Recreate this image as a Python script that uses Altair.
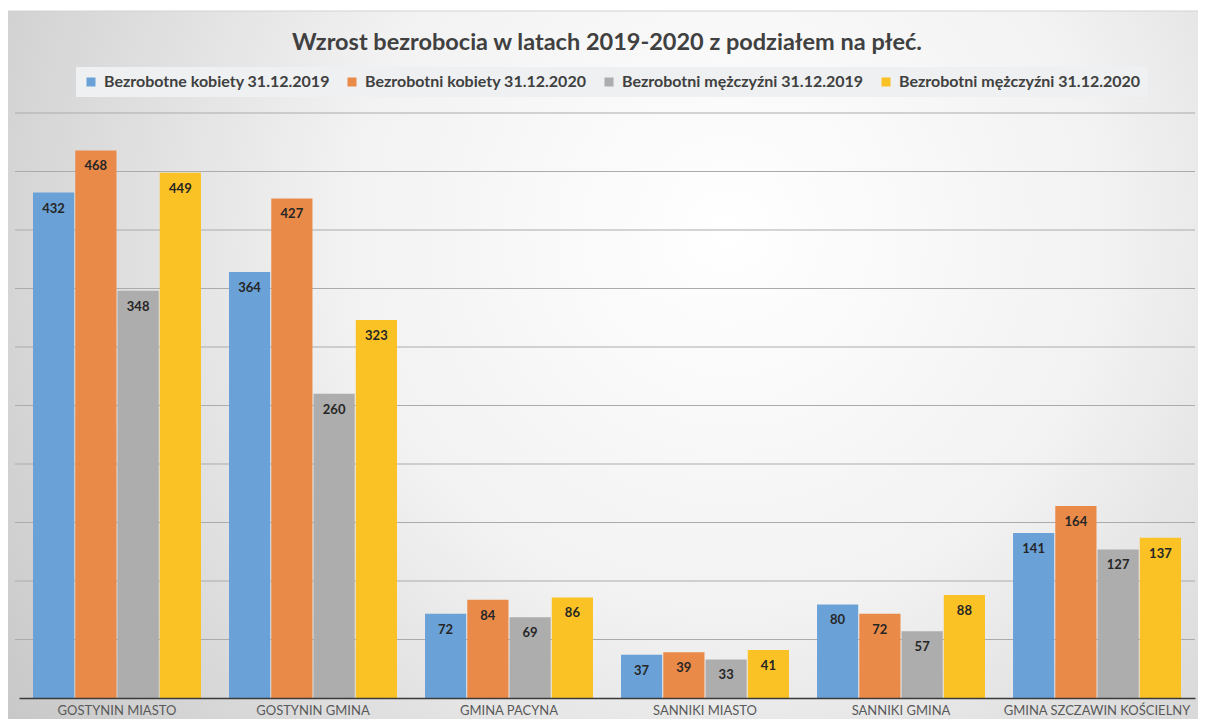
import altair as alt
import pandas as pd

categories = [
    "GOSTYNIN MIASTO",
    "GOSTYNIN GMINA",
    "GMINA PACYNA",
    "SANNIKI MIASTO",
    "SANNIKI GMINA",
    "GMINA SZCZAWIN KOŚCIELNY",
]
series = [
    "Bezrobotne kobiety 31.12.2019",
    "Bezrobotni kobiety 31.12.2020",
    "Bezrobotni mężczyźni 31.12.2019",
    "Bezrobotni mężczyźni 31.12.2020",
]
kobiety_2019 = [432, 364, 72, 37, 80, 141]
kobiety_2020 = [468, 427, 84, 39, 72, 164]
mezczyzni_2019 = [348, 260, 69, 33, 57, 127]
mezczyzni_2020 = [449, 323, 86, 41, 88, 137]
colors = ["#6aa2d8", "#ea8a48", "#adadad", "#fac224"]
grid_values = list(range(50, 501, 50))

rows = []
for s, vals in zip(series, [kobiety_2019, kobiety_2020, mezczyzni_2019, mezczyzni_2020]):
    for c, v in zip(categories, vals):
        rows.append({"gmina": c, "seria": s, "wartosc": v})
df = pd.DataFrame(rows)

W, H = 1176, 585

bg = alt.Chart(pd.DataFrame({"a": [0]})).mark_rect(
    fill={
        "gradient": "radial",
        "x1": 0.6, "y1": 0.38, "r1": 0.0,
        "x2": 0.6, "y2": 0.38, "r2": 0.76,
        "stops": [
            {"offset": 0.0, "color": "#ffffff"},
            {"offset": 0.42, "color": "#f2f2f2"},
            {"offset": 1.0, "color": "#c4c4c4"},
        ],
    },
    stroke="#d2d2d2",
    strokeWidth=1,
).encode(
    x=alt.value(-12), x2=alt.value(W + 14), y=alt.value(-102), y2=alt.value(H + 40)
)

grid = alt.Chart(pd.DataFrame({"v": grid_values})).mark_rule(
    color="#ababab", strokeWidth=1
).encode(
    y=alt.Y("v:Q", scale=alt.Scale(domain=[0, 500], nice=False), axis=None),
    x=alt.value(-4),
    x2=alt.value(W),
)

base = alt.Chart(df).encode(
    x=alt.X(
        "gmina:N",
        sort=categories,
        scale=alt.Scale(paddingInner=0.143, paddingOuter=0.0714),
        axis=alt.Axis(
            title=None,
            labelAngle=0,
            labelFont="Lato",
            labelFontSize=13,
            labelColor="#595959",
            ticks=False,
            domainColor="#3a3a3a",
            domainWidth=1.5,
            labelPadding=6,
            grid=False,
            labelLimit=0,
            zindex=1,
        ),
    ),
    xOffset=alt.XOffset("seria:N", sort=series, scale=alt.Scale(paddingInner=0.025)),
    y=alt.Y("wartosc:Q", scale=alt.Scale(domain=[0, 500], nice=False), axis=None),
)

bars = base.mark_bar().encode(
    color=alt.Color(
        "seria:N",
        sort=series,
        scale=alt.Scale(domain=series, range=colors),
        legend=alt.Legend(
            orient="none",
            legendX=57,
            legendY=-46,
            direction="horizontal",
            title=None,
            symbolType="square",
            symbolSize=81,
            symbolStrokeWidth=0,
            labelFont="Lato",
            labelFontWeight="bold",
            labelFontSize=16,
            labelColor="#404040",
            labelOffset=5,
            columnPadding=14,
            fillColor="#eef0f1",
            padding=7,
            labelLimit=0,
        ),
    )
)

labels = base.mark_text(
    baseline="top", dy=10, font="Lato", fontWeight="bold", fontSize=13, color="#262626"
).encode(text="wartosc:Q")

chart = alt.layer(bg, grid, bars, labels).properties(
    width=W,
    height=H,
    autosize=alt.AutoSizeParams(type="none"),
    padding={"left": 11, "top": 105, "right": 3, "bottom": 21},
    title=alt.TitleParams(
        "Wzrost bezrobocia w latach 2019-2020 z podziałem na płeć.",
        anchor="middle",
        font="Lato",
        fontSize=23.5,
        fontWeight="bold",
        color="#404040",
        offset=-44,
    ),
).configure_view(stroke=None)

chart.save("out.html", embed_options={"renderer": "svg", "actions": False})
